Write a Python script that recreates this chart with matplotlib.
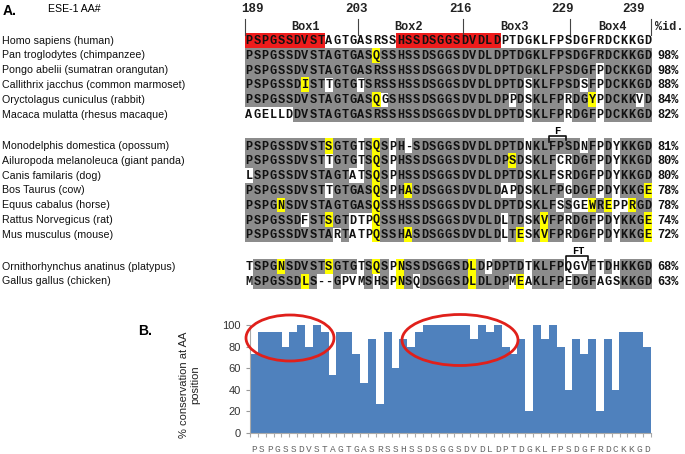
import matplotlib
matplotlib.use('Agg')
import matplotlib.pyplot as plt
from matplotlib.patches import Rectangle, Ellipse
import numpy as np

# ---------------- data ----------------
species = [
    "Homo sapiens (human)",
    "Pan troglodytes (chimpanzee)",
    "Pongo abelii (sumatran orangutan)",
    "Callithrix jacchus (common marmoset)",
    "Oryctolagus cuniculus (rabbit)",
    "Macaca mulatta (rhesus macaque)",
    "Monodelphis domestica (opossum)",
    "Ailuropoda melanoleuca (giant panda)",
    "Canis familaris (dog)",
    "Bos Taurus (cow)",
    "Equus cabalus (horse)",
    "Rattus Norvegicus (rat)",
    "Mus musculus (mouse)",
    "Ornithorhynchus anatinus (platypus)",
    "Gallus gallus (chicken)",
]
sequences = [
    "PSPGSSDVSTAGTGASRSSHSSDSGGSDVDLDPTDGKLFPSDGFRDCKKGD",
    "PSPGSSDVSTAGTGASQSSHSSDSGGSDVDLDPTDGKLFPSDGFRDCKKGD",
    "PSPGSSDVSTAGTGASRSSHSSDSGGSDVDLDPTDGKLFPSDGFPDCKKGD",
    "PSPGSSDISTTGTGTSRSSHSSDSGGSDVDLDPTDSKLFPSDSFPDCKKGD",
    "PSPGSSDVSTAGTGASQGSHSSDSGGSDVDLDPPDSKLFPRDGYPDCKKVD",
    "AGELLDDVSTAGTGASRSSHSSDSGGSDVDLDPTDSKLFPRDGFPDCKKGD",
    "PSPGSSDVSTSGTGTSQSPH-SDSGGSDVDLDPTDNKLFPSDNFPDYKKGD",
    "PSPGSSDVSTTGTGTSQSPHSSDSGGSDVDLDPSDSKLFCRDGFPDYKKGD",
    "LSPGSSDVSTAGTATSQSPHSSDSGGSDVDLDPTDSKLFSRDGFPDYKKGD",
    "PSPGSSDVSTTGTGASQSPHASDSGGSDVDLDAPDSKLFPGDGFPDYKKGE",
    "PSPGNSDVSTAGTGASQSSHSSDSGGSDVDLDPTDSKLFSSGEWREPPRGD",
    "PSPGSSDFSTSGTDTPQSSHSSDSGGSDVDLDLTDSKVFPRDGFPDYKKGE",
    "PSPGSSDVSTARTATPQSSHASDSGGSDVDLDLTESKVFPRDGFPDYKKGE",
    "TSPGNSDVSTSGTGTSQSPNSSDSGGSDLDPDPTDTKLFPQGVFTDHKKGD",
    "MSPGSSDLS--GPVMSHSPNSQDSGGSDLDLDPMEAKLFPEDGFAGSKKGD",
]
identity = ["", "98%", "98%", "88%", "84%", "82%", "81%", "80%", "80%",
            "78%", "78%", "74%", "72%", "68%", "63%"]
# positions (1-based) of conservative substitutions (yellow)
similar_pos = [[], [17], [], [8], [17, 44], [], [11, 17], [17, 34], [17],
               [17, 21, 51], [5, 17, 44, 46, 49], [11, 17, 38, 51],
               [17, 21, 35, 38, 51], [5, 11, 17, 20, 29], [8, 20, 29, 35]]
red_ranges = [(1, 10), (20, 32)]
aa_numbers = ["189", "203", "216", "229", "239"]
box_names = ["Box1", "Box2", "Box3", "Box4"]

conservation = [73.3, 93.3, 93.3, 93.3, 80.0, 93.3, 100, 80.0, 100, 93.3,
                53.3, 93.3, 93.3, 73.3, 46.7, 86.7, 26.7, 93.3, 60.0, 86.7,
                80.0, 93.3, 100, 100, 100, 100, 100, 100, 86.7, 100,
                93.3, 100, 80.0, 73.3, 86.7, 20.0, 100, 86.7, 100, 80.0,
                40.0, 86.7, 73.3, 86.7, 20.0, 86.7, 40.0, 93.3, 93.3, 93.3,
                80.0]
residues = list(sequences[0])

# ---------------- layout ----------------
W, H = 685, 454
fig = plt.figure(figsize=(W / 100, H / 100), dpi=100)
cv = fig.add_axes([0, 0, 1, 1])
cv.set_xlim(0, W)
cv.set_ylim(H, 0)
cv.axis('off')

X0 = 245.0
CW = 7.98
RH = 14.8
row_y = [40.5, 55.3, 70.1, 84.9, 99.7, 114.5,
         146.0, 160.8, 175.6, 190.4, 205.2, 220.0, 234.8,
         266.5, 281.3]

GRAY = '#8c8c8c'
YEL = '#ffff00'
RED = '#ee1c1c'
MONO = 'Liberation Mono'
SANS = 'Liberation Sans'
SEQ_FS = 8.6

human = sequences[0]
for r, (name, seq, pid, ysim) in enumerate(zip(species, sequences, identity, similar_pos)):
    y = row_y[r]
    cv.text(2, y, name, fontsize=7.7, family=SANS, va='center', ha='left', color='#111')
    for k, ch in enumerate(seq):
        x = X0 + k * CW
        bg = None
        if r == 0:
            if any(a <= k + 1 <= b for a, b in red_ranges):
                bg = RED
        else:
            if ch == human[k]:
                bg = GRAY
            elif (k + 1) in ysim:
                bg = YEL
        if bg is not None:
            cv.add_patch(Rectangle((x - 0.2, y - RH / 2 - 0.2), CW + 0.4, RH + 0.4,
                                   fc=bg, ec='none', zorder=1))
        cv.text(x + CW / 2, y + 0.5, ch, fontsize=SEQ_FS, family=MONO, weight='bold',
                ha='center', va='center', color='#111', zorder=3)
    if pid:
        cv.text(657, y + 0.5, pid, fontsize=SEQ_FS, family=MONO, weight='bold',
                ha='left', va='center', color='#111')

# header
cv.text(3, 11, 'A.', fontsize=10, family=SANS, weight='bold', va='center', ha='left')
cv.text(48, 9, 'ESE-1 AA#', fontsize=7.6, family=SANS, va='center', ha='left')
for lab, xc in zip(aa_numbers, [252, 357, 461, 563, 634]):
    cv.text(xc, 9, lab, fontsize=9, family=MONO, weight='bold', ha='center', va='center',
            color='#222')
for xv in [245, 358, 463, 570, 651]:
    cv.plot([xv, xv], [19, 35], color='#444', lw=0.8)
for lab, xc in zip(box_names, [306, 409, 515, 613]):
    cv.text(xc, 27, lab, fontsize=SEQ_FS, family=MONO, weight='bold', ha='center',
            va='center', color='#222')
cv.text(655, 27, '%id.', fontsize=SEQ_FS, family=MONO, weight='bold', ha='left',
        va='center', color='#222')

# insertion markers
cv.plot([549, 549, 566, 566], [142, 136, 136, 140], color='#111', lw=1.2)
cv.text(557.5, 131, 'F', fontsize=7.5, family=MONO, weight='bold', ha='center',
        va='center')
cv.plot([566, 566, 588, 588], [270, 256, 256, 260], color='#111', lw=1.2)
cv.text(578, 251, 'FT', fontsize=7.5, family=MONO, weight='bold', ha='center',
        va='center')

# ---------------- bar chart ----------------
axL, axR, axT, axBot = 250, 651, 325, 433
ax = fig.add_axes([axL / W, 1 - axBot / H, (axR - axL) / W, (axBot - axT) / H])
ax.patch.set_alpha(0)
xs = np.arange(len(conservation))
ax.bar(xs, conservation, width=1.02, color='#4f81bd', edgecolor='none', linewidth=0)
ax.set_xlim(-0.5, len(conservation) - 0.5)
ax.set_ylim(0, 100)
ax.set_yticks([0, 20, 40, 60, 80, 100])
ax.tick_params(axis='y', labelsize=8, colors='#999', labelcolor='#333', length=3,
               direction='out', width=0.8)
for t in ax.get_yticklabels():
    t.set_family(SANS)
ax.set_xticks(xs)
ax.set_xticklabels(residues, family=MONO, fontsize=6.8, color='#666')
ax.tick_params(axis='x', which='major', length=0, pad=9)
ax.set_xticks(np.arange(-0.5, len(conservation), 1.0), minor=True)
ax.tick_params(axis='x', which='minor', length=3, color='#aaa', direction='out', width=0.8)
for s in ['top', 'right']:
    ax.spines[s].set_visible(False)
ax.spines['left'].set_color('#aaa')
ax.spines['bottom'].set_color('#aaa')
ax.set_ylabel('% conservation at AA\nposition', fontsize=8, family=SANS, color='#222',
              linespacing=1.1)
ax.yaxis.set_label_coords(-0.125, 0.45)

# ---------------- overlay ----------------
ov = fig.add_axes([0, 0, 1, 1])
ov.set_xlim(0, W)
ov.set_ylim(H, 0)
ov.patch.set_alpha(0)
ov.axis('off')
ov.text(138, 331, 'B.', fontsize=10, family=SANS, weight='bold', va='center', ha='left')
ov.add_patch(Ellipse((290, 338), 88, 46, fill=False, ec='#e0201b', lw=2.0))
ov.add_patch(Ellipse((460, 340), 116, 51, fill=False, ec='#e0201b', lw=2.0))

fig.savefig('out.png', dpi=100)
